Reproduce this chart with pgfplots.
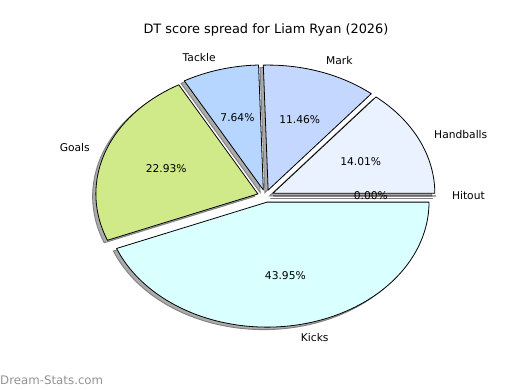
\documentclass[border=0pt]{standalone}
\usepackage{pgfplots}
\usepackage{pgfplotstable}
\pgfplotsset{compat=1.18}
\usepackage{fontspec}
\setmainfont{DejaVu Sans}
\definecolor{cHandballs}{HTML}{EAF1FF}
\definecolor{cMark}{HTML}{C4D8FF}
\definecolor{cTackle}{HTML}{B6D6FF}
\definecolor{cGoals}{HTML}{D0EA8A}
\definecolor{cKicks}{HTML}{D9FFFF}
\definecolor{cHitout}{HTML}{FFFFFF}
\tikzset{lblfont/.style={font=\fontsize{10.7pt}{12pt}\selectfont, inner sep=0pt}}

\pgfplotstableread{
label value color
Handballs 14.01 cHandballs
Mark 11.46 cMark
Tackle 7.64 cTackle
Goals 22.93 cGoals
Kicks 43.95 cKicks
Hitout 0.00 cHitout
}\piedata

% geometry of slice #1 from stored angles
\newcommand\slicegeom[1]{%
  \edef\sA{\csname sa#1\endcsname}\edef\sB{\csname sb#1\endcsname}%
  \pgfmathsetmacro\sBB{\sB+0.01}%
  \pgfmathtruncatemacro\nsamp{max(2,min(90,\sB-\sA))}%
  \pgfmathsetmacro\midang{(\sA+\sB)/2}%
  \pgfmathsetmacro\dx{0.05*cos(\midang)}%
  \pgfmathsetmacro\dy{0.05*sin(\midang)}%
}
\newcommand\pieshadow[1]{%
  \slicegeom{#1}%
  \pgfmathsetmacro\sx{\dx-0.02}%
  \pgfmathsetmacro\sy{\dy-0.02}%
  \edef\temp{\noexpand\addplot[forget plot, no markers, fill=black!33, draw=black!50, line width=0.9pt, domain=\sA:\sBB, samples=\nsamp] ({\sx+cos(x)},{\sy+sin(x)}) -- (axis cs:\sx,\sy) -- cycle;}%
  \temp
}
\newcommand\piewedge[1]{%
  \slicegeom{#1}%
  \edef\col{\csname col#1\endcsname}%
  \edef\temp{\noexpand\addplot[forget plot, no markers, fill=\col, draw=black, line width=0.8pt, line join=round, domain=\sA:\sBB, samples=\nsamp] ({\dx+cos(x)},{\dy+sin(x)}) -- (axis cs:\dx,\dy) -- cycle;}%
  \temp
}
\newcommand\pielabel[1]{%
  \slicegeom{#1}%
  \pgfmathsetmacro\lx{\dx+1.1*cos(\midang)}%
  \pgfmathsetmacro\ly{\dy+1.1*sin(\midang)}%
  \pgfmathsetmacro\px{\dx+0.6*cos(\midang)}%
  \pgfmathsetmacro\py{\dy+0.6*sin(\midang)}%
  \ifdim\lx pt>0pt \def\anc{west}\else\def\anc{east}\fi
  \edef\lab{\csname lab#1\endcsname}%
  \edef\val{\csname val#1\endcsname}%
  \edef\temp{\noexpand\node[lblfont, anchor=\anc] at (axis cs:\lx,\ly) {\lab};
    \noexpand\node[lblfont, anchor=center] at (axis cs:\px,\py) {\val\noexpand\%};}%
  \temp
}

\begin{document}
\begin{tikzpicture}
% totals and angles
\def\total{0}
\pgfplotsforeachungrouped \i in {0,...,5}{%
  \pgfplotstablegetelem{\i}{value}\of\piedata
  \pgfmathsetmacro\total{\total+\pgfplotsretval}%
}
\def\cum{0}
\pgfplotsforeachungrouped \i in {0,...,5}{%
  \pgfplotstablegetelem{\i}{value}\of\piedata
  \edef\val{\pgfplotsretval}%
  \pgfmathsetmacro\sa{360*(\cum/\total)}%
  \pgfmathsetmacro\cum{\cum+\val}%
  \pgfmathsetmacro\sb{360*(\cum/\total)}%
  \expandafter\xdef\csname sa\i\endcsname{\sa}%
  \expandafter\xdef\csname sb\i\endcsname{\sb}%
  \expandafter\xdef\csname val\i\endcsname{\val}%
  \pgfplotstablegetelem{\i}{label}\of\piedata
  \expandafter\xdef\csname lab\i\endcsname{\pgfplotsretval}%
  \pgfplotstablegetelem{\i}{color}\of\piedata
  \expandafter\xdef\csname col\i\endcsname{\pgfplotsretval}%
}
\fill[white] (0,0) rectangle (520pt,390pt);
\begin{axis}[
  at={(0,0)}, anchor=south west,
  scale only axis, width=520pt, height=390pt,
  xmin=-1.639, xmax=1.571, ymin=-1.552, ymax=1.568,
  hide axis, clip=false,
]
\pieshadow{0}\pieshadow{1}\pieshadow{2}\pieshadow{3}\pieshadow{4}\pieshadow{5}
\piewedge{0}\piewedge{1}\piewedge{2}\piewedge{3}\piewedge{4}\piewedge{5}
\pielabel{0}\pielabel{1}\pielabel{2}\pielabel{3}\pielabel{4}\pielabel{5}
\node[font=\fontsize{12.9pt}{15pt}\selectfont, anchor=center] at (rel axis cs:0.5115,0.923) {DT score spread for Liam Ryan (2026)};
\node[font=\fontsize{11.8pt}{14pt}\selectfont, text=black!42, anchor=west, inner sep=0pt] at (rel axis cs:0,0.0256) {Dream-Stats.com};
\end{axis}
\end{tikzpicture}
\end{document}
